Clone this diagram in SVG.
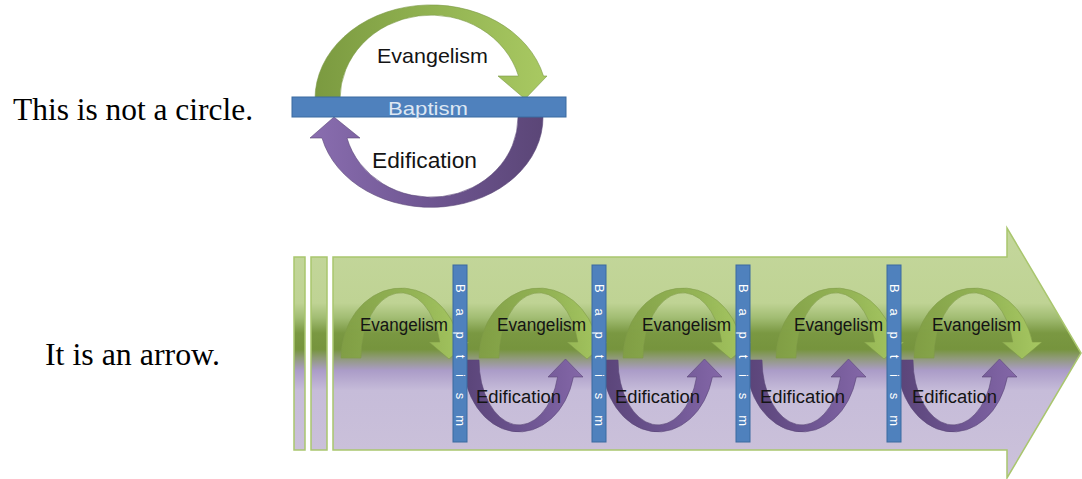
<svg xmlns="http://www.w3.org/2000/svg" xmlns:xlink="http://www.w3.org/1999/xlink" width="1082" height="479" viewBox="0 0 1082 479">
<style>
.cap{font-family:"Liberation Serif","Times New Roman",serif;font-size:32px;fill:#000}
.lbl{font-family:"Liberation Sans",Arial,sans-serif;fill:#141414}
.bar{fill:#4f81bd;stroke:#3b6aa0;stroke-width:1}
.vt{font-family:"Liberation Sans",Arial,sans-serif;font-size:13px;fill:#ffffff}
.body{fill:url(#arrowGrad);stroke:#a9c66e;stroke-width:1.5}
</style>
<defs>
<linearGradient id="arrowGrad" gradientUnits="userSpaceOnUse" x1="0" y1="228" x2="0" y2="478">
<stop offset="0" stop-color="#c4d79c"/>
<stop offset="0.3" stop-color="#bfd394"/>
<stop offset="0.36" stop-color="#a1bc72"/>
<stop offset="0.42" stop-color="#7a9842"/>
<stop offset="0.485" stop-color="#76943d"/>
<stop offset="0.52" stop-color="#8f9a77"/>
<stop offset="0.57" stop-color="#ab9cc8"/>
<stop offset="0.65" stop-color="#c6bcd9"/>
<stop offset="1" stop-color="#ccc2da"/>
</linearGradient>
<linearGradient id="gTop" x1="0" y1="0" x2="1" y2="0">
<stop offset="0" stop-color="#7b9a40"/>
<stop offset="0.5" stop-color="#91b251"/>
<stop offset="1" stop-color="#a9c962"/>
</linearGradient>
<linearGradient id="pTop" x1="1" y1="0" x2="0" y2="0">
<stop offset="0" stop-color="#5b4677"/>
<stop offset="0.5" stop-color="#6f5692"/>
<stop offset="1" stop-color="#8a6eb0"/>
</linearGradient>
<linearGradient id="gArch" x1="0" y1="0" x2="1" y2="0">
<stop offset="0" stop-color="#819f45"/>
<stop offset="0.6" stop-color="#93b453"/>
<stop offset="1" stop-color="#aacb64"/>
</linearGradient>
<linearGradient id="pArch" x1="0" y1="0" x2="1" y2="0">
<stop offset="0" stop-color="#5a4478"/>
<stop offset="0.5" stop-color="#6c5490"/>
<stop offset="1" stop-color="#8467a8"/>
</linearGradient>
<path id="green" d="M0,358 A60 70 0 0 1 118.4,342 L128,342 L108,359 L88,342 L98.8,342 A40 65 0 0 0 20,358 Z" fill="url(#gArch)" stroke="#7f9b48" stroke-width="0.6" opacity="0.95"/>
<path id="purple" d="M-56,360 A56 72 0 0 0 54.4,377 L64,377 L46.5,359 L29,377 L38.6,377 A40 65 0 0 1 -40,360 Z" fill="url(#pArch)" stroke="#5a4677" stroke-width="0.6"/>
</defs>

<rect width="1082" height="479" fill="#ffffff"/>

<g id="caption-circle"><text class="cap" x="13" y="120" textLength="240" lengthAdjust="spacingAndGlyphs">This is not a circle.</text></g>
<g id="caption-arrow"><text class="cap" x="45" y="365" textLength="175" lengthAdjust="spacingAndGlyphs">It is an arrow.</text></g>

<g id="circle-diagram">
  <g id="evangelism-top">
    <path d="M315,99 A116 94 0 0 1 543.5,76 L547,76 L525,99 L498,76 L518.5,76 A91 84 0 0 0 340,99 Z" fill="url(#gTop)" stroke="#7b9844" stroke-width="0.6"/>
    <text class="lbl" x="377" y="63" font-size="21" textLength="111" lengthAdjust="spacingAndGlyphs">Evangelism</text>
  </g>
  <g id="edification-top">
    <path d="M543,117 A112 90 0 0 1 322,138 L310,138 L334,117 L360,138 L347,138 A87 80 0 0 0 518,117 Z" fill="url(#pTop)" stroke="#5a4677" stroke-width="0.6"/>
    <text class="lbl" x="372" y="168" font-size="22" textLength="105" lengthAdjust="spacingAndGlyphs">Edification</text>
  </g>
  <g id="baptism-top">
    <rect class="bar" x="292" y="97" width="274" height="20"/>
    <text x="388" y="115" font-family="Liberation Sans, Arial, sans-serif" font-size="19" fill="#dde7f3" textLength="80" lengthAdjust="spacingAndGlyphs">Baptism</text>
  </g>
</g>

<g id="arrow-diagram">
  <g id="arrow-body">
    <rect class="body" x="294" y="257" width="11" height="193"/>
    <rect class="body" x="311" y="257" width="16" height="193"/>
    <path class="body" d="M333,257 L1007,257 L1007,228 L1081,353 L1007,478 L1007,450 L333,450 Z"/>
  </g>

  <g id="connectors">
    <use xlink:href="#green" x="341"/>
    <use xlink:href="#green" x="479"/>
    <use xlink:href="#green" x="623"/>
    <use xlink:href="#green" x="776"/>
    <use xlink:href="#green" x="914"/>
    <use xlink:href="#purple" x="519"/>
    <use xlink:href="#purple" x="658"/>
    <use xlink:href="#purple" x="802"/>
    <use xlink:href="#purple" x="953"/>
  </g>

  <g id="baptism-1"><rect class="bar" x="453" y="265" width="14" height="177"/><text class="vt" transform="translate(455.5,284) rotate(90)" textLength="142" lengthAdjust="spacing">Baptism</text></g>
  <g id="baptism-2"><rect class="bar" x="592" y="265" width="14" height="177"/><text class="vt" transform="translate(594.5,284) rotate(90)" textLength="142" lengthAdjust="spacing">Baptism</text></g>
  <g id="baptism-3"><rect class="bar" x="736" y="265" width="14" height="177"/><text class="vt" transform="translate(738.5,284) rotate(90)" textLength="142" lengthAdjust="spacing">Baptism</text></g>
  <g id="baptism-4"><rect class="bar" x="887" y="265" width="14" height="177"/><text class="vt" transform="translate(889.5,284) rotate(90)" textLength="142" lengthAdjust="spacing">Baptism</text></g>

  <g id="evangelism-labels">
    <text class="lbl" x="360" y="331" font-size="18" textLength="88" lengthAdjust="spacingAndGlyphs">Evangelism</text>
    <text class="lbl" x="497" y="331" font-size="18" textLength="89" lengthAdjust="spacingAndGlyphs">Evangelism</text>
    <text class="lbl" x="642" y="331" font-size="18" textLength="89" lengthAdjust="spacingAndGlyphs">Evangelism</text>
    <text class="lbl" x="794" y="331" font-size="18" textLength="89" lengthAdjust="spacingAndGlyphs">Evangelism</text>
    <text class="lbl" x="932" y="331" font-size="18" textLength="89" lengthAdjust="spacingAndGlyphs">Evangelism</text>
  </g>
  <g id="edification-labels">
    <text class="lbl" x="476" y="403" font-size="18" textLength="85" lengthAdjust="spacingAndGlyphs">Edification</text>
    <text class="lbl" x="615" y="403" font-size="18" textLength="85" lengthAdjust="spacingAndGlyphs">Edification</text>
    <text class="lbl" x="760" y="403" font-size="18" textLength="85" lengthAdjust="spacingAndGlyphs">Edification</text>
    <text class="lbl" x="912" y="403" font-size="18" textLength="85" lengthAdjust="spacingAndGlyphs">Edification</text>
  </g>
</g>
</svg>
